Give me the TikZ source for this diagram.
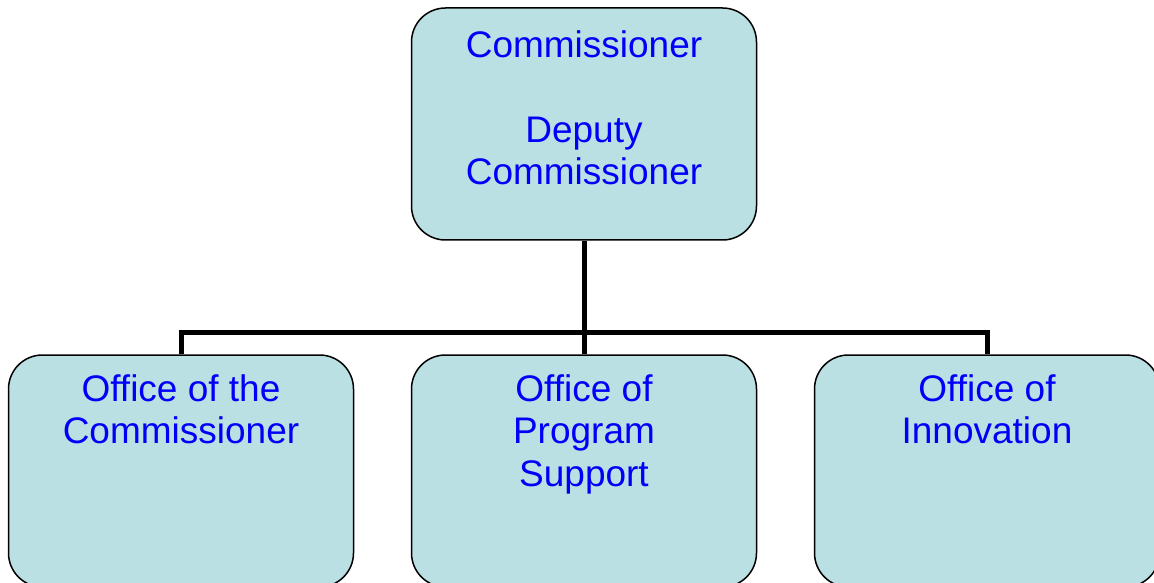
\documentclass[tikz,border=0pt]{standalone}
\usepackage{fontspec}
\setmainfont{Liberation Sans}
\usepackage{xcolor}
\usetikzlibrary{positioning}

\definecolor{unitfill}{RGB}{187,224,227}
\definecolor{unitblue}{RGB}{0,0,250}

\tikzset{
    unit/.style={rectangle, rounded corners=34pt, draw=black, line width=1.5pt, fill=unitfill,
                 minimum width=345pt, minimum height=232pt, inner sep=0pt},
    unittext/.style={text=unitblue, font=\fontsize{37}{42.5}\selectfont, align=center,
                     anchor=north, inner sep=0pt, yshift=-20pt},
    link/.style={draw=black, line width=5pt, line join=miter}
}

\begin{document}
\begin{tikzpicture}[x=1pt, y=1pt]
    \useasboundingbox (0, 0) rectangle (1154, 582);

    \node[unit, label={[unittext, yshift=-3pt]90:Commissioner\\[42.5pt]Deputy\\Commissioner}] (comm) at (584, 458) {};
    \node[unit, label={[unittext]90:Office of the\\Commissioner}] (ooc) at (181, 111) {};
    \node[unit, label={[unittext]90:Office of\\Program\\Support}] (ops) at (584, 111) {};
    \node[unit, label={[unittext]90:Office of\\Innovation}] (ooi) at (987, 111) {};

    % bus between the two levels
    \coordinate (bus) at (584, 250);

    \draw[link] (comm.south) -- (bus);
    \draw[link] (bus) -| (ooc.north);
    \draw[link] (bus) -- (ops.north);
    \draw[link] (bus) -| (ooi.north);
\end{tikzpicture}
\end{document}
